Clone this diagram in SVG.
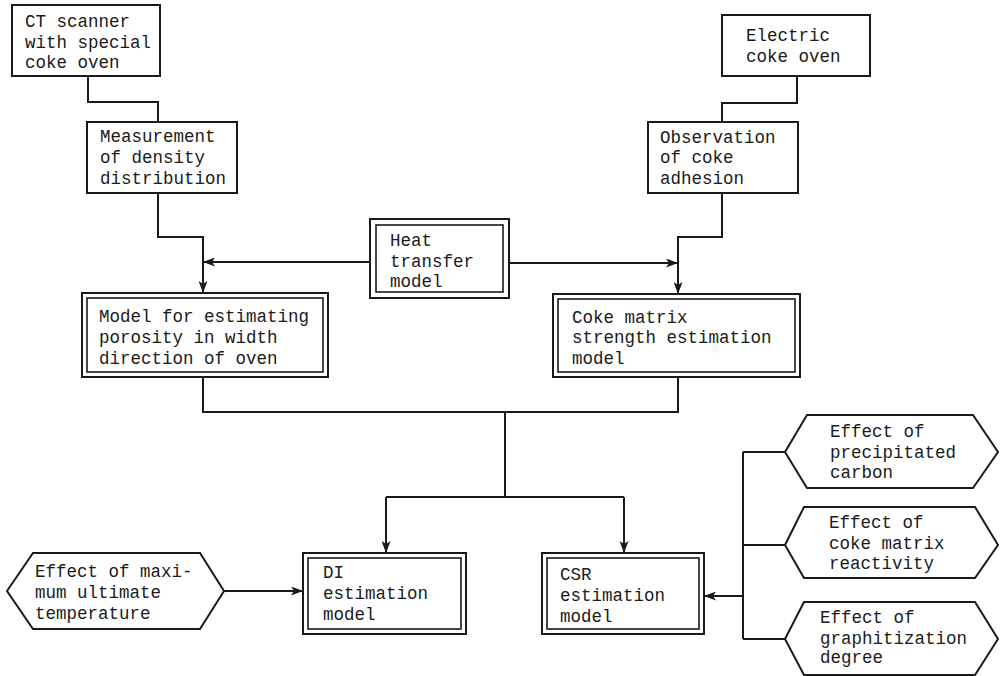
<svg xmlns="http://www.w3.org/2000/svg" width="1000" height="676" viewBox="0 0 1000 676">
<defs>
<style>
.b{fill:#fff;stroke:#1a1a1a;stroke-width:2}
.bi{fill:none;stroke:#1a1a1a;stroke-width:1.6}
.c{fill:none;stroke:#1a1a1a;stroke-width:2}
.t{font-family:"Liberation Mono","DejaVu Sans Mono",monospace;font-size:17.5px;fill:#1a1a1a}
</style>
<marker id="ah" markerUnits="userSpaceOnUse" markerWidth="12" markerHeight="9" refX="12" refY="4.5" orient="auto">
<path d="M0,0 L12,4.5 L0,9 L3,4.5 Z" fill="#1a1a1a"/>
</marker>
</defs>
<rect width="1000" height="676" fill="#fff"/>
<g id="connectors">
<polyline class="c" points="88,76 88,102 158,102 158,122"/>
<polyline class="c" points="797,76 797,103 722,103 722,122"/>
<polyline class="c" points="158,193 158,237 203,237 203,293" marker-end="url(#ah)"/>
<polyline class="c" points="722,193 722,237 678,237 678,294" marker-end="url(#ah)"/>
<line class="c" x1="370" y1="262" x2="203" y2="262" marker-end="url(#ah)"/>
<line class="c" x1="509" y1="263" x2="678" y2="263" marker-end="url(#ah)"/>
<polyline class="c" points="203,377 203,412 678,412 678,377"/>
<line class="c" x1="505" y1="412" x2="505" y2="497"/>
<line class="c" x1="386" y1="497" x2="624" y2="497"/>
<line class="c" x1="386" y1="497" x2="386" y2="553" marker-end="url(#ah)"/>
<line class="c" x1="624" y1="497" x2="624" y2="553" marker-end="url(#ah)"/>
<line class="c" x1="224" y1="591" x2="303" y2="591" marker-end="url(#ah)"/>
<line class="c" x1="743" y1="452" x2="743" y2="639"/>
<line class="c" x1="743" y1="452" x2="785" y2="452"/>
<line class="c" x1="743" y1="545" x2="785" y2="545"/>
<line class="c" x1="743" y1="639" x2="785" y2="639"/>
<line class="c" x1="743" y1="596" x2="704" y2="596" marker-end="url(#ah)"/>
</g>
<g id="ct-scanner">
<rect class="b" x="12" y="5" width="148" height="71"/>
<text class="t" x="25" y="27">CT scanner</text>
<text class="t" x="25" y="47.5">with special</text>
<text class="t" x="25" y="68">coke oven</text>
</g>
<g id="measurement">
<rect class="b" x="87" y="122" width="150" height="71"/>
<text class="t" x="100" y="142">Measurement</text>
<text class="t" x="100" y="163">of density</text>
<text class="t" x="100" y="184">distribution</text>
</g>
<g id="electric-oven">
<rect class="b" x="722" y="15" width="148" height="61"/>
<text class="t" x="746" y="41">Electric</text>
<text class="t" x="746" y="62">coke oven</text>
</g>
<g id="observation">
<rect class="b" x="648" y="122" width="150" height="71"/>
<text class="t" x="660" y="143">Observation</text>
<text class="t" x="660" y="163">of coke</text>
<text class="t" x="660" y="184">adhesion</text>
</g>
<g id="heat-transfer">
<rect class="b" x="370" y="219" width="139" height="79"/>
<rect class="bi" x="376" y="225" width="127" height="67"/>
<text class="t" x="390" y="246">Heat</text>
<text class="t" x="390" y="266.5">transfer</text>
<text class="t" x="390" y="287">model</text>
</g>
<g id="porosity-model">
<rect class="b" x="82" y="293" width="246" height="84"/>
<rect class="bi" x="87" y="298" width="236" height="74"/>
<text class="t" x="99" y="322">Model for estimating</text>
<text class="t" x="99" y="343">porosity in width</text>
<text class="t" x="99" y="364">direction of oven</text>
</g>
<g id="matrix-strength-model">
<rect class="b" x="553" y="294" width="247" height="83"/>
<rect class="bi" x="558" y="299" width="237" height="73"/>
<text class="t" x="572" y="323">Coke matrix</text>
<text class="t" x="572" y="343">strength estimation</text>
<text class="t" x="572" y="364">model</text>
</g>
<g id="di-model">
<rect class="b" x="303" y="553" width="163" height="81"/>
<rect class="bi" x="308" y="558" width="153" height="71"/>
<text class="t" x="323" y="578">DI</text>
<text class="t" x="323" y="599">estimation</text>
<text class="t" x="323" y="620">model</text>
</g>
<g id="csr-model">
<rect class="b" x="542" y="553" width="162" height="81"/>
<rect class="bi" x="547" y="558" width="152" height="71"/>
<text class="t" x="560" y="580">CSR</text>
<text class="t" x="560" y="601">estimation</text>
<text class="t" x="560" y="622">model</text>
</g>
<g id="effect-max-temp">
<polygon class="b" points="7,591 33,553 200,553 224,591 200,629 33,629"/>
<text class="t" x="35" y="577">Effect of maxi-</text>
<text class="t" x="35" y="598">mum ultimate</text>
<text class="t" x="35" y="619">temperature</text>
</g>
<g id="effect-precipitated-carbon">
<polygon class="b" points="785,452 807,415 973,415 998,452 973,488 807,488"/>
<text class="t" x="830" y="437">Effect of</text>
<text class="t" x="830" y="458">precipitated</text>
<text class="t" x="830" y="478">carbon</text>
</g>
<g id="effect-matrix-reactivity">
<polygon class="b" points="785,545 804,507 975,507 998,545 975,578 804,578"/>
<text class="t" x="829" y="528">Effect of</text>
<text class="t" x="829" y="549">coke matrix</text>
<text class="t" x="829" y="569">reactivity</text>
</g>
<g id="effect-graphitization">
<polygon class="b" points="785,639 804,602 975,602 998,639 975,675 804,675"/>
<text class="t" x="820" y="623">Effect of</text>
<text class="t" x="820" y="644">graphitization</text>
<text class="t" x="820" y="663">degree</text>
</g>
</svg>
